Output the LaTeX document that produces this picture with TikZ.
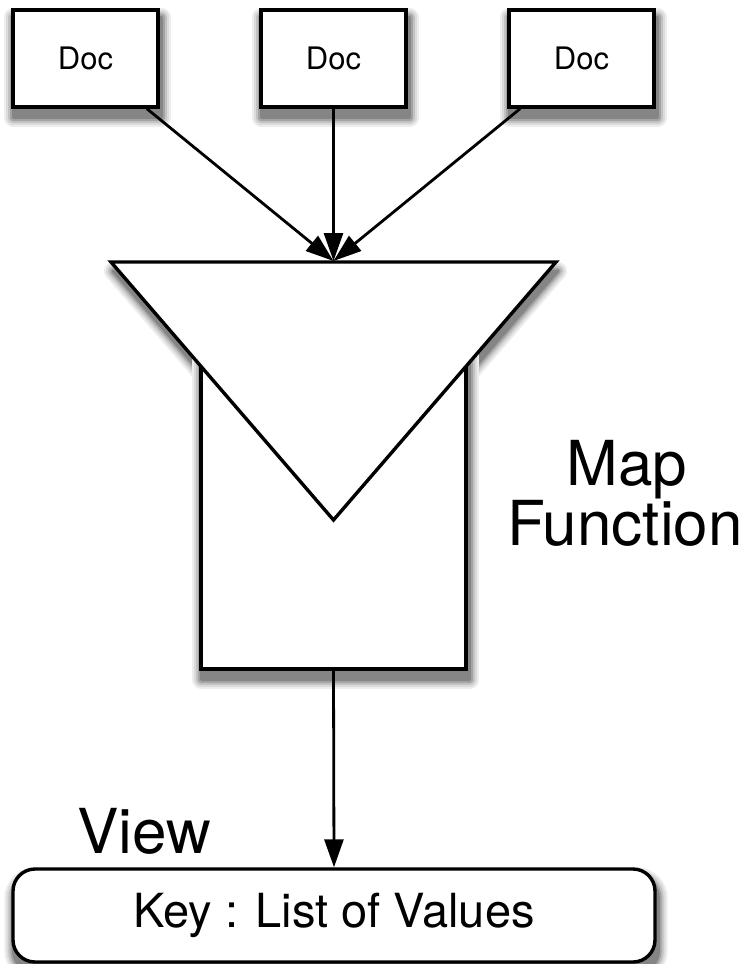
\documentclass[tikz,border=0pt]{standalone}
\usepackage{fontspec}
\setmainfont{TeX Gyre Heros}
\usetikzlibrary{arrows.meta,backgrounds}

% soft drop shadow: stacked grey layers, lightest and widest first
\newcommand\dropshadow[1]{%
  \foreach \g/\w in {7/18,14/14,24/10,36/6,48/2.5}{%
    \draw[draw=black!\g, fill=black!\g, line width=\w pt, line join=round] #1;}}

\begin{document}
\begin{tikzpicture}[x=1pt,y=-1pt,
  docbox/.style={draw, line width=3.4pt, fill=white, inner sep=0pt,
      minimum width=145pt, minimum height=97pt,
      font=\fontsize{31}{31}\selectfont},
  bodybox/.style={draw, line width=3.4pt, fill=white, inner sep=0pt,
      minimum width=265pt, minimum height=349pt},
  viewbox/.style={draw, line width=3.4pt, fill=white, inner sep=0pt,
      rounded corners=22pt, minimum width=642pt, minimum height=93pt,
      font=\fontsize{47}{47}\selectfont},
  biglabel/.style={font=\fontsize{62}{62}\selectfont, inner sep=0pt, anchor=base},
  arr/.style={line width=2.8pt, draw=black,
      -{Triangle[length=28pt,width=19pt,fill=black]}}
]
\useasboundingbox (0,0) rectangle (749,964);

% source documents
\node[docbox] (doc1) at (85.5,58.5) {Doc};
\node[docbox] (doc2) at (333.5,58.5) {Doc};
\node[docbox] (doc3) at (581.5,58.5) {Doc};

% funnel: the stem, then the cone over it
\node[bodybox] (body) at (333.5,494.5) {};
\draw[line width=3.4pt, fill=white, line join=miter]
  (111,262) -- (556,262) -- (333.5,520) -- cycle;
\coordinate (mouth) at (333.5,261);

% result
\node[viewbox] (view) at (334,915.5) {Key : List of Values};

% shadows, all behind the shapes
\begin{pgfonlayer}{background}
  \foreach \d in {doc1,doc2,doc3}{%
    \dropshadow{([shift={(2,9)}]\d.north west) rectangle ([shift={(2,9)}]\d.south east)}}
  \dropshadow{(113,271) -- (558,271) -- (335.5,529) -- cycle}
  \dropshadow{([shift={(2,9)}]body.north west) rectangle ([shift={(2,9)}]body.south east)}
  \dropshadow{[rounded corners=22pt] ([shift={(2,9)}]view.north west) rectangle ([shift={(2,9)}]view.south east)}
\end{pgfonlayer}

% labels
\node[biglabel] (map) at (627,485) {Map};
\node[biglabel] (func) at (625,545) {Function};
\node[font=\fontsize{62}{62}\selectfont, inner sep=0pt, anchor=base west]
  (viewlabel) at (77,853) {View};

% connectors
\draw[arr] (doc1) -- (mouth);
\draw[arr] (doc2) -- (mouth);
\draw[arr] (doc3) -- (mouth);
\draw[arr] (body.south) -- (view.north);
\end{tikzpicture}
\end{document}
